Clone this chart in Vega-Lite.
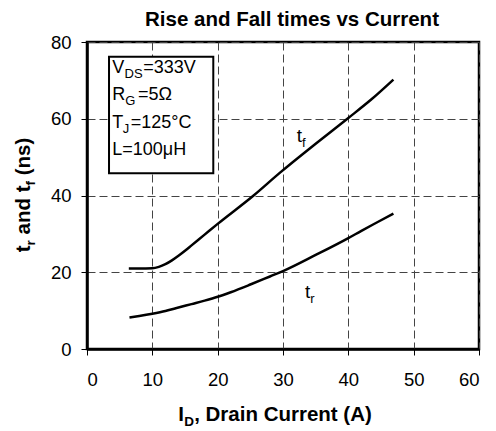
{
  "$schema": "https://vega.github.io/schema/vega-lite/v6.json",
  "width": 392,
  "height": 307,
  "autosize": {"type": "none"},
  "padding": {"left": 87, "top": 42, "right": 17, "bottom": 82},
  "background": "white",
  "title": {"text": "Rise and Fall times vs Current", "font": "Liberation Sans", "fontSize": 20.5, "fontWeight": "bold", "color": "black", "offset": 3, "dx": 9},
  "config": {
    "view": {"stroke": "black", "strokeWidth": 2.5},
    "axis": {
      "labelFont": "Liberation Sans", "labelFontSize": 18.5, "labelColor": "black",
      "domainColor": "black", "domainWidth": 2.5,
      "tickColor": "black", "tickWidth": 1, "tickSize": 6,
      "gridColor": "#444444", "gridDash": [8, 4], "gridWidth": 1
    },
    "text": {"font": "Liberation Sans", "color": "black", "align": "left", "baseline": "alphabetic"}
  },
  "datasets": {
    "curves": [
      {"series": "tf", "x": 6.4, "y": 21.0}, {"series": "tf", "x": 8, "y": 21.0}, {"series": "tf", "x": 10, "y": 21.05},
      {"series": "tf", "x": 11, "y": 21.4}, {"series": "tf", "x": 12, "y": 22.1}, {"series": "tf", "x": 13, "y": 23.1},
      {"series": "tf", "x": 14, "y": 24.3}, {"series": "tf", "x": 15, "y": 25.6}, {"series": "tf", "x": 16, "y": 27.0},
      {"series": "tf", "x": 18, "y": 29.8}, {"series": "tf", "x": 20, "y": 32.6}, {"series": "tf", "x": 25.5, "y": 40.0},
      {"series": "tf", "x": 29.5, "y": 45.9}, {"series": "tf", "x": 35, "y": 53.5}, {"series": "tf", "x": 40, "y": 60.2},
      {"series": "tf", "x": 43.5, "y": 65.0}, {"series": "tf", "x": 46.9, "y": 70.2},
      {"series": "tr", "x": 6.5, "y": 8.2}, {"series": "tr", "x": 8, "y": 8.6}, {"series": "tr", "x": 10, "y": 9.2},
      {"series": "tr", "x": 12, "y": 9.9}, {"series": "tr", "x": 14, "y": 10.8}, {"series": "tr", "x": 16, "y": 11.7},
      {"series": "tr", "x": 18, "y": 12.6}, {"series": "tr", "x": 20, "y": 13.6}, {"series": "tr", "x": 22, "y": 14.8},
      {"series": "tr", "x": 25, "y": 16.8}, {"series": "tr", "x": 28, "y": 18.9}, {"series": "tr", "x": 30, "y": 20.3},
      {"series": "tr", "x": 35, "y": 24.5}, {"series": "tr", "x": 40, "y": 28.9}, {"series": "tr", "x": 42, "y": 30.8},
      {"series": "tr", "x": 44.5, "y": 33.1}, {"series": "tr", "x": 46.9, "y": 35.3}
    ],
    "box": [{"x": 3.37, "x2": 19.33, "y": 76.17, "y2": 45.8}],
    "labels": [
      {"t": "t", "x": 32.11, "y": 54.0, "g": "cm"},
      {"t": "f", "x": 32.91, "y": 54.0, "g": "cs"},
      {"t": "t", "x": 33.37, "y": 13.2, "g": "cm"},
      {"t": "r", "x": 34.18, "y": 13.2, "g": "cs"},
      {"t": "V", "x": 3.87, "y": 71.84, "g": "bm"},
      {"t": "DS", "x": 5.74, "y": 71.84, "g": "bs"},
      {"t": "=333V", "x": 8.62, "y": 71.84, "g": "bm"},
      {"t": "R", "x": 3.87, "y": 64.89, "g": "bm"},
      {"t": "G", "x": 5.85, "y": 64.89, "g": "bs"},
      {"t": "=5Ω", "x": 7.81, "y": 64.89, "g": "bm"},
      {"t": "T", "x": 3.87, "y": 57.67, "g": "bm"},
      {"t": "J", "x": 5.46, "y": 57.67, "g": "bs"},
      {"t": "=125°C", "x": 6.69, "y": 57.67, "g": "bm"},
      {"t": "L=100μH", "x": 3.87, "y": 50.55, "g": "bm"},
      {"t": "I", "x": 13.98, "y": -18.76, "g": "xm"},
      {"t": "D", "x": 14.9, "y": -18.76, "g": "xs"},
      {"t": ", Drain Current (A)", "x": 16.4, "y": -18.76, "g": "xm"},
      {"t": "t", "x": -8.7, "y": 25.21, "g": "ym"},
      {"t": "r", "x": -8.7, "y": 26.99, "g": "ys"},
      {"t": "and t", "x": -8.7, "y": 29.84, "g": "ym"},
      {"t": "f", "x": -8.7, "y": 42.61, "g": "ys"},
      {"t": "(ns)", "x": -8.7, "y": 45.26, "g": "ym"}
    ]
  },
  "encoding": {
    "x": {"field": "x", "type": "quantitative", "scale": {"domain": [0, 60], "nice": false},
          "axis": {"title": null, "values": [0, 10, 20, 30, 40, 50, 60], "labelPadding": 15}},
    "y": {"field": "y", "type": "quantitative", "scale": {"domain": [0, 80], "nice": false},
          "axis": {"title": null, "values": [0, 20, 40, 60, 80], "labelPadding": 10}}
  },
  "layer": [
    {
      "data": {"name": "box"},
      "mark": {"type": "rect", "fill": "white", "stroke": "black", "strokeWidth": 2},
      "encoding": {"x2": {"field": "x2"}, "y2": {"field": "y2"}}
    },
    {
      "data": {"name": "curves"},
      "mark": {"type": "line", "color": "black", "strokeWidth": 2.5, "interpolate": "monotone"},
      "encoding": {"detail": {"field": "series"}}
    },
    {
      "data": {"name": "labels"},
      "transform": [{"filter": "datum.g == 'cs'"}],
      "mark": {"type": "text", "fontSize": 13, "dy": 5, "fill": "white", "stroke": "white", "strokeWidth": 3},
      "encoding": {"text": {"field": "t"}}
    },
    {
      "data": {"name": "labels"},
      "transform": [{"filter": "datum.g == 'cm'"}],
      "mark": {"type": "text", "fontSize": 19},
      "encoding": {"text": {"field": "t"}}
    },
    {
      "data": {"name": "labels"},
      "transform": [{"filter": "datum.g == 'cs'"}],
      "mark": {"type": "text", "fontSize": 13, "dy": 5},
      "encoding": {"text": {"field": "t"}}
    },
    {
      "data": {"name": "labels"},
      "transform": [{"filter": "datum.g == 'bm'"}],
      "mark": {"type": "text", "fontSize": 18},
      "encoding": {"text": {"field": "t"}}
    },
    {
      "data": {"name": "labels"},
      "transform": [{"filter": "datum.g == 'bs'"}],
      "mark": {"type": "text", "fontSize": 13, "dy": 5},
      "encoding": {"text": {"field": "t"}}
    },
    {
      "data": {"name": "labels"},
      "transform": [{"filter": "datum.g == 'xm'"}],
      "mark": {"type": "text", "fontSize": 20.5, "fontWeight": "bold"},
      "encoding": {"text": {"field": "t"}}
    },
    {
      "data": {"name": "labels"},
      "transform": [{"filter": "datum.g == 'xs'"}],
      "mark": {"type": "text", "fontSize": 13.5, "fontWeight": "bold", "dy": 5},
      "encoding": {"text": {"field": "t"}}
    },
    {
      "data": {"name": "labels"},
      "transform": [{"filter": "datum.g == 'ym'"}],
      "mark": {"type": "text", "fontSize": 20.5, "fontWeight": "bold", "angle": 270},
      "encoding": {"text": {"field": "t"}}
    },
    {
      "data": {"name": "labels"},
      "transform": [{"filter": "datum.g == 'ys'"}],
      "mark": {"type": "text", "fontSize": 13.5, "fontWeight": "bold", "angle": 270, "dy": 5},
      "encoding": {"text": {"field": "t"}}
    }
  ]
}
